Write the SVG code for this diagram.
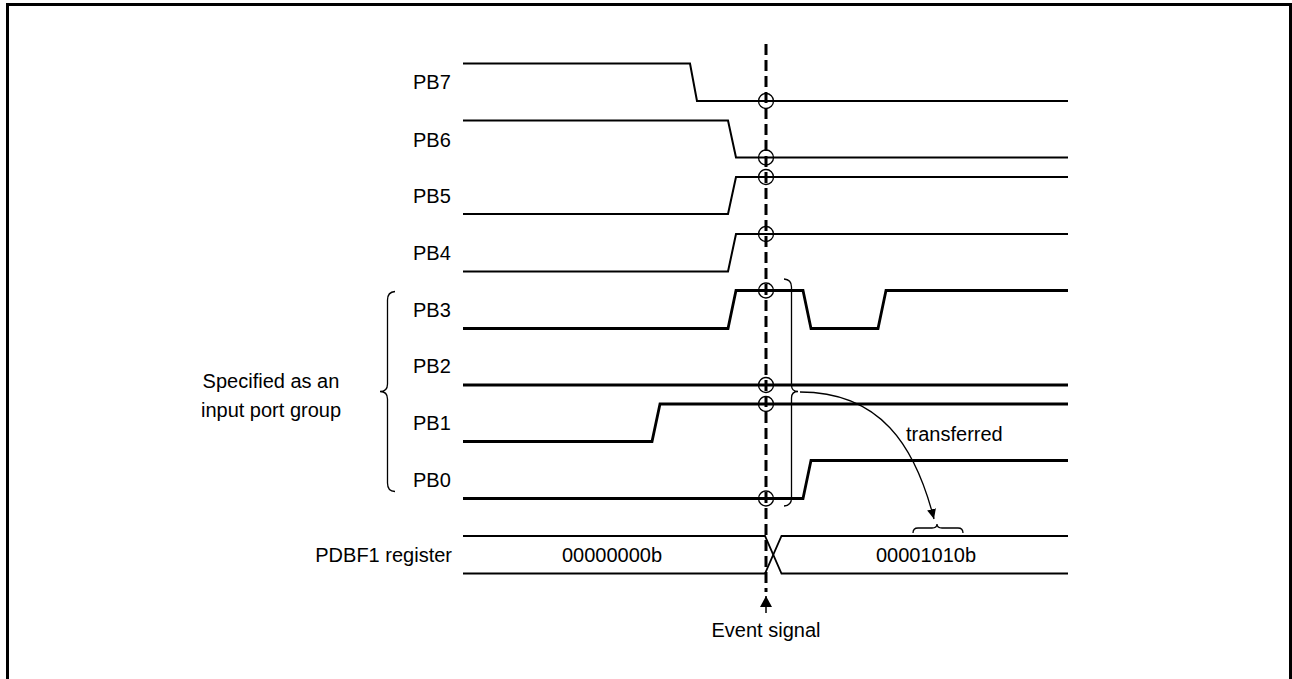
<svg xmlns="http://www.w3.org/2000/svg" width="1292" height="679" viewBox="0 0 1292 679">
<style>
text{font-family:"Liberation Sans",Arial,sans-serif;font-size:20px;fill:#000}
.sig{fill:none;stroke:#000;stroke-width:2;stroke-linejoin:miter}
.sigb{fill:none;stroke:#000;stroke-width:2.8;stroke-linejoin:miter}
.thin{fill:none;stroke:#000;stroke-width:1.3}
.reg{fill:none;stroke:#000;stroke-width:1.8}
.pt{fill:none;stroke:#000;stroke-width:1.3}
</style>
<defs>
<marker id="ah" viewBox="0 0 10 10" refX="10" refY="5" markerWidth="10" markerHeight="10" markerUnits="userSpaceOnUse" orient="auto">
<path d="M0,0.5 L10,5 L0,9.5 Z" fill="#000"/>
</marker>
<marker id="ahb" viewBox="0 0 11 12" refX="11" refY="6" markerWidth="11" markerHeight="12" markerUnits="userSpaceOnUse" orient="auto">
<path d="M0,0 L11,6 L0,12 Z" fill="#000"/>
</marker>
</defs>
<rect x="7.5" y="4.5" width="1283" height="700" fill="#fff" stroke="#000" stroke-width="3"/>

<g id="PB7"><text x="413" y="89">PB7</text><path class="sig" d="M463,63.5 H690 L697,101 H1068"/></g>
<g id="PB6"><text x="413" y="146.5">PB6</text><path class="sig" d="M463,120.5 H728 L736,157.5 H1068"/></g>
<g id="PB5"><text x="413" y="203">PB5</text><path class="sig" d="M463,214 H728 L736,177 H1068"/></g>
<g id="PB4"><text x="413" y="260">PB4</text><path class="sig" d="M463,271.5 H728 L736,234 H1068"/></g>
<g id="PB3"><text x="413" y="316.5">PB3</text><path class="sigb" d="M463,328.5 H728 L736,290.5 H803 L811,328.5 H878 L886,290.5 H1068"/></g>
<g id="PB2"><text x="413" y="373">PB2</text><path class="sigb" d="M463,385 H1068"/></g>
<g id="PB1"><text x="413" y="430">PB1</text><path class="sigb" d="M463,441.5 H652 L660,404 H1068"/></g>
<g id="PB0"><text x="413" y="486.5">PB0</text><path class="sigb" d="M463,498.5 H803 L811,460.5 H1068"/></g>

<g id="group">
<path class="thin" d="M395,291.5 Q387.5,292 387.5,300 V384 Q387.5,391.5 380,391.5 Q387.5,391.5 387.5,399 V483 Q387.5,491.5 395,491.5"/>
<text x="271" y="388" text-anchor="middle">Specified as an</text>
<text x="271" y="417" text-anchor="middle">input port group</text>
</g>

<g id="PDBF1">
<text x="452" y="561.5" text-anchor="end">PDBF1 register</text>
<path class="reg" d="M463,536 H765 L781.5,573.5 H1068"/>
<path class="reg" d="M463,573.5 H765 L781.5,536 H1068"/>
<text x="612" y="561.5" text-anchor="middle">00000000b</text>
<text x="926" y="561.5" text-anchor="middle">00001010b</text>
</g>

<g id="event">
<line x1="766" y1="44" x2="766" y2="592" stroke="#000" stroke-width="3" stroke-dasharray="11 5"/>
<line x1="766" y1="613" x2="766" y2="596" stroke="#000" stroke-width="1.5" marker-end="url(#ahb)"/>
<text x="766" y="636.5" text-anchor="middle">Event signal</text>
</g>

<g id="points">
<circle class="pt" cx="766" cy="101" r="7.5"/>
<circle class="pt" cx="766" cy="157.5" r="7.5"/>
<circle class="pt" cx="766" cy="177" r="7.5"/>
<circle class="pt" cx="766" cy="234" r="7.5"/>
<circle class="pt" cx="766" cy="290.5" r="7.5"/>
<circle class="pt" cx="766" cy="385" r="7.5"/>
<circle class="pt" cx="766" cy="404" r="7.5"/>
<circle class="pt" cx="766" cy="498.5" r="7.5"/>
</g>

<g id="connectors">
<path class="thin" d="M784,279 Q791.5,279.5 791.5,287 V385 Q791.5,391.5 798,391.5 Q791.5,391.5 791.5,398 V498 Q791.5,505.5 784,506"/>
<path class="thin" d="M800,392 C880,392 915,445 934,519" marker-end="url(#ah)"/>
<path class="thin" d="M913,533 Q913,528 918,528 H932 Q937,528 937,524 Q937,528 942,528 H958 Q963,528 963,533"/>
<text x="906" y="440.5">transferred</text>
</g>
</svg>
